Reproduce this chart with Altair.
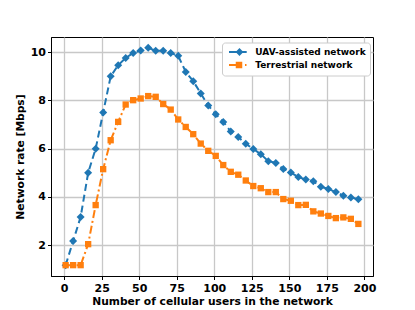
import altair as alt
import pandas as pd

users = list(range(1, 200, 5))
uav_rate = [1.17, 2.17, 3.17, 5.0, 6.0, 7.5, 9.0, 9.46, 9.76, 9.97,
            10.07, 10.18, 10.06, 10.06, 9.97, 9.85, 9.18, 8.8, 8.29, 7.79,
            7.43, 7.11, 6.71, 6.48, 6.2, 5.99, 5.77, 5.48, 5.41, 5.16,
            5.01, 4.82, 4.72, 4.65, 4.42, 4.33, 4.2, 4.05, 3.98, 3.9]
terr_rate = [1.17, 1.17, 1.17, 2.04, 3.66, 5.15, 6.35, 7.11, 7.83, 8.01,
             8.08, 8.18, 8.15, 7.85, 7.62, 7.21, 6.9, 6.6, 6.21, 5.91,
             5.7, 5.32, 5.04, 4.92, 4.68, 4.45, 4.36, 4.2, 4.2, 3.91,
             3.84, 3.66, 3.67, 3.4, 3.31, 3.21, 3.12, 3.15, 3.09, 2.88]
series_names = ["UAV-assisted network", "Terrestrial network"]
colors = ["#1f77b4", "#ff7f0e"]
x_ticks = [0, 25, 50, 75, 100, 125, 150, 175, 200]
y_ticks = [2, 4, 6, 8, 10]

df = pd.concat([
    pd.DataFrame({"users": users, "rate": uav_rate, "series": series_names[0]}),
    pd.DataFrame({"users": users, "rate": terr_rate, "series": series_names[1]}),
])

font = "DejaVu Sans"
xenc = alt.X("users:Q", scale=alt.Scale(domain=[-8.75, 205.75], nice=False, zero=False),
             axis=alt.Axis(values=x_ticks, title="Number of cellular users in the network"))
yenc = alt.Y("rate:Q", scale=alt.Scale(domain=[0.72, 10.63], nice=False, zero=False),
             axis=alt.Axis(values=y_ticks, title="Network rate [Mbps]"))
cscale = alt.Scale(domain=series_names, range=colors)

base = alt.Chart(df).encode(x=xenc, y=yenc)
is_uav = alt.datum.series == series_names[0]
is_terr = alt.datum.series == series_names[1]

uav_line = base.mark_line(strokeWidth=2, color=colors[0], strokeDash=[7, 4]).transform_filter(is_uav)
uav_points = base.mark_point(filled=True, opacity=1, strokeWidth=0, shape="diamond", size=64,
                             color=colors[0]).transform_filter(is_uav)
terr_line = base.mark_line(strokeWidth=2, color=colors[1], strokeDash=[8, 3, 2, 3]).transform_filter(is_terr)
terr_points = base.mark_point(filled=True, opacity=1, strokeWidth=0, shape="square", size=40,
                              color=colors[1]).transform_filter(is_terr)

leg = alt.Legend(title=None, orient="none", legendX=171, legendY=5.5, padding=3.5,
                 rowPadding=-10.5, fillColor="white", strokeColor="#cccccc", cornerRadius=3,
                 labelOffset=17.8, symbolSize=100, symbolStrokeWidth=2, symbolOpacity=1,
                 labelFont=font, labelFontWeight="bold", labelFontSize=9, labelColor="black")

legend_paths = ["M-0.5,0H3.04M1.6,-0.5L2.1,0L1.6,0.5L1.1,0Z",
                "M-0.5,0H1.05M2.7,0H3.0M1.05,-0.45H1.95V0.45H1.05Z"]

legend_layer = base.mark_point(filled=True, opacity=0, strokeWidth=2).encode(
    color=alt.Color("series:N", scale=cscale, legend=leg),
    stroke=alt.Stroke("series:N", scale=cscale, legend=leg),
    shape=alt.Shape("series:N", scale=alt.Scale(domain=series_names, range=legend_paths), legend=leg),
)

chart = alt.layer(uav_line, uav_points, terr_line, terr_points, legend_layer).properties(
    width=322, height=239,
    autosize=alt.AutoSizeParams(type="none"),
    padding={"left": 43, "top": 29, "right": 34, "bottom": 31},
).configure_view(
    stroke="black", strokeWidth=1
).configure_axis(
    labelFont=font, labelFontWeight="bold", labelFontSize=11, labelColor="black",
    titleFont=font, titleFontWeight="bold", titleFontSize=10.7, titleColor="black",
    domainColor="black", tickColor="black", tickSize=3.5, labelPadding=2.5,
    gridColor="#c8c8c8", gridWidth=1.3,
).configure_axisX(
    titlePadding=3
).configure_axisY(
    titlePadding=5, labelPadding=2
)

chart.save("out.html", embed_options={"renderer": "svg", "actions": False})
